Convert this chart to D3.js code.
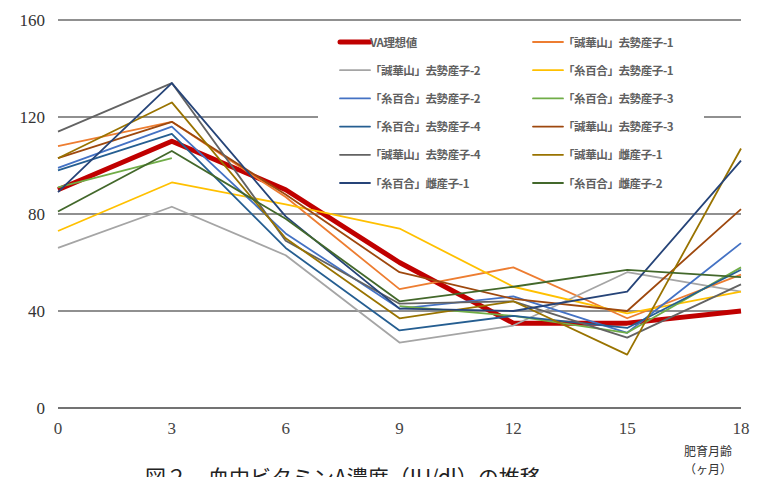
<!DOCTYPE html>
<html>
<head>
<meta charset="utf-8">
<script src="https://cdn.jsdelivr.net/npm/d3@7"></script>
<style>
  body { margin: 0; background: #fff; }
  svg { display: block; }
</style>
</head>
<body>
<div id="chart"></div>
<script>
// months on x axis
var months = [0, 3, 6, 9, 12, 15, 18];
var yTicks = [0, 40, 80, 120, 160];

var seriesNames = [
  "VA理想値",
  "「誠華山」去勢産子-1",
  "「誠華山」去勢産子-2",
  "「糸百合」去勢産子-1",
  "「糸百合」去勢産子-2",
  "「糸百合」去勢産子-3",
  "「糸百合」去勢産子-4",
  "「誠華山」去勢産子-3",
  "「誠華山」去勢産子-4",
  "「誠華山」雌産子-1",
  "「糸百合」雌産子-1",
  "「糸百合」雌産子-2"
];
var seriesColors = ["#c00000", "#ed7d31", "#a5a5a5", "#ffc000", "#4472c4", "#70ad47",
                    "#255e91", "#9e480e", "#636363", "#997300", "#264478", "#43682b"];

var vaIdeal     = [90, 110, 90, 60, 35, 35, 40];
var seika1      = [108, 118, 87, 49, 58, 37, 55];
var seika2      = [66, 83, 63, 27, 34, 56, 48];
var itoyuri1    = [73, 93, 84, 74, 50, 39, 48];
var itoyuri2    = [99, 116, 72, 41, 46, 31, 68];
var itoyuri3    = [91, 103, null, 42, 38, 31, 58];
var itoyuri4    = [98, 113, 66, 32, 38, 33, 57];
var seika3      = [103, 118, 88, 56, 45, 40, 82];
var seika4      = [114, 134, 69, 43, 44, 29, 51];
var seikaF1     = [103, 126, 70, 37, 44, 22, 107];
var itoyuriF1   = [89, 134, 79, 41, 40, 48, 102];
var itoyuriF2   = [81, 106, 78, 44, 50, 57, 54];

var seriesValues = [vaIdeal, seika1, seika2, itoyuri1, itoyuri2, itoyuri3,
                    itoyuri4, seika3, seika4, seikaF1, itoyuriF1, itoyuriF2];

var W = 766, H = 477;
var svg = d3.select("#chart").append("svg")
  .attr("width", W)
  .attr("height", H);

var x = d3.scaleLinear().domain([0, 18]).range([58, 741]);
var y = d3.scaleLinear().domain([0, 160]).range([408, 20]);

// gridlines
svg.append("g")
  .selectAll("line")
  .data(yTicks)
  .enter()
  .append("line")
  .attr("x1", x(0))
  .attr("x2", x(18))
  .attr("y1", function (d) { return y(d); })
  .attr("y2", function (d) { return y(d); })
  .attr("stroke", function (d) { return d === 0 ? "#444" : "#222"; })
  .attr("stroke-width", function (d) { return d === 0 ? 1.6 : 1.2; });

// y labels
svg.append("g")
  .selectAll("text")
  .data(yTicks)
  .enter()
  .append("text")
  .attr("x", 45)
  .attr("y", function (d) { return y(d) + 6; })
  .attr("text-anchor", "end")
  .style("font-family", "'Liberation Serif', 'DejaVu Serif', serif")
  .style("font-size", "17px")
  .style("fill", "#333")
  .text(function (d) { return d; });

// x labels
svg.append("g")
  .selectAll("text")
  .data(months)
  .enter()
  .append("text")
  .attr("x", function (d) { return x(d); })
  .attr("y", 434)
  .attr("text-anchor", "middle")
  .style("font-family", "'Liberation Serif', 'DejaVu Serif', serif")
  .style("font-size", "17px")
  .style("fill", "#444")
  .text(function (d) { return d; });

var line = d3.line()
  .defined(function (d) { return d != null; })
  .x(function (d, i) { return x(months[i]); })
  .y(function (d) { return y(d); });

// legend background (hides gridline behind it)
svg.append("rect")
  .attr("x", 318)
  .attr("y", 27)
  .attr("width", 386)
  .attr("height", 170)
  .attr("fill", "#fff");

svg.append("g")
  .selectAll("path")
  .data(seriesValues)
  .enter()
  .append("path")
  .attr("d", function (d) { return line(d); })
  .attr("fill", "none")
  .attr("stroke", function (d, i) { return seriesColors[i]; })
  .attr("stroke-width", function (d, i) { return i === 0 ? 5 : 1.8; })
  .attr("stroke-linejoin", "round");

// legend
var legend = svg.append("g")
  .selectAll("g")
  .data(seriesNames)
  .enter()
  .append("g")
  .attr("transform", function (d, i) {
    var col = i % 2, row = Math.floor(i / 2);
    return "translate(" + (col === 0 ? 340 : 533) + "," + (42 + row * 28.2) + ")";
  });

legend.append("line")
  .attr("x1", 0).attr("x2", 30)
  .attr("stroke", function (d, i) { return seriesColors[i]; })
  .attr("stroke-width", function (d, i) { return i === 0 ? 5 : 1.8; })
  .attr("stroke-linecap", "round");

legend.append("text")
  .attr("x", 30)
  .attr("y", 4.5)
  .style("font-family", "'Noto Sans CJK JP', sans-serif")
  .style("font-size", "11.5px")
  .style("font-weight", "bold")
  .style("letter-spacing", "-0.4px")
  .style("fill", "#606060")
  .text(function (d) { return d; });

// axis unit
svg.append("text")
  .attr("x", 708).attr("y", 456)
  .attr("text-anchor", "middle")
  .style("font-family", "'Noto Sans CJK JP', sans-serif")
  .style("font-size", "12px")
  .style("fill", "#333")
  .text("肥育月齢");
svg.append("text")
  .attr("x", 708).attr("y", 474)
  .attr("text-anchor", "middle")
  .style("font-family", "'Noto Sans CJK JP', sans-serif")
  .style("font-size", "12px")
  .style("fill", "#333")
  .text("（ヶ月）");

// figure caption, cut off by the bottom edge as in the source figure
svg.append("text")
  .attr("x", 145).attr("y", 485)
  .style("font-family", "'Noto Sans CJK JP', sans-serif")
  .style("font-size", "21px")
  .style("fill", "#222")
  .text("図２　血中ビタミンA濃度（IU/dl）の推移");
</script>
</body>
</html>
